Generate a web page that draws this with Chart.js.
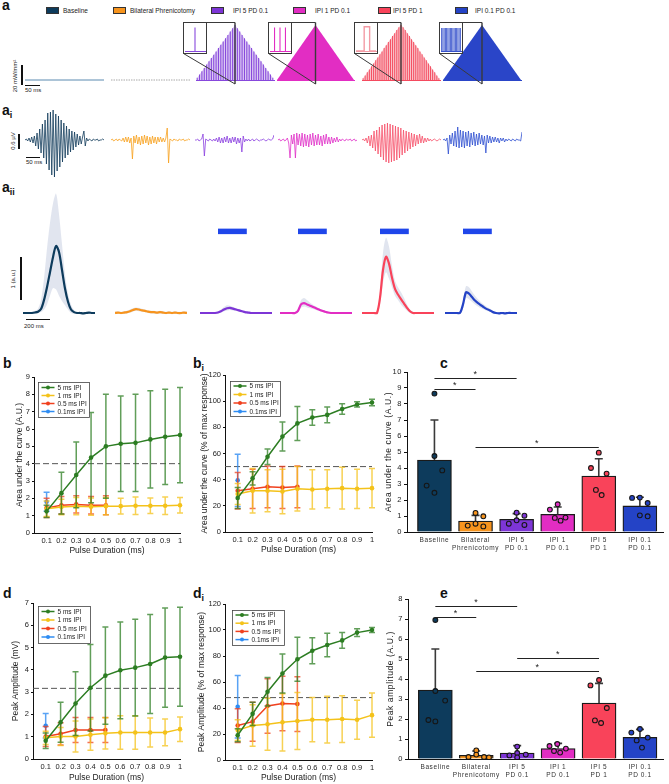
<!DOCTYPE html>
<html>
<head>
<meta charset="utf-8">
<title>Stimulation figure</title>
<script src="https://cdn.jsdelivr.net/npm/chart.js@4.4.1/dist/chart.umd.min.js"></script>
<style>
  body { margin: 0; width: 669px; height: 784px; position: relative; overflow: hidden; background: #fff;
         font-family: "Liberation Sans", Arial, sans-serif; color: #111; }
  canvas { position: absolute; }
  .lbl { position: absolute; font-weight: bold; font-size: 14px; line-height: 1; }
  .lbl sub { font-size: 9px; vertical-align: -3px; }
  .sw { position: absolute; top: 7px; width: 13px; height: 7px; box-sizing: border-box; border: 1px solid #333; }
  .lt { position: absolute; top: 7px; font-size: 6.5px; line-height: 7px; color: #222; white-space: nowrap; }
  .sbar { position: absolute; background: #111; }
  .note { position: absolute; font-size: 6px; color: #222; white-space: nowrap; }
  .vnote { position: absolute; font-size: 6px; color: #222; white-space: nowrap; transform: translate(-50%, -50%) rotate(-90deg); }
</style>
</head>
<body>
<div class="lbl" style="left:2px;top:-2px">a</div>
<div class="lbl" style="left:2px;top:103px">a<sub>i</sub></div>
<div class="lbl" style="left:2px;top:180px">a<sub>ii</sub></div>
<div class="lbl" style="left:3px;top:356px">b</div>
<div class="lbl" style="left:193px;top:356px">b<sub>i</sub></div>
<div class="lbl" style="left:440px;top:356px">c</div>
<div class="lbl" style="left:3px;top:586px">d</div>
<div class="lbl" style="left:193px;top:586px">d<sub>i</sub></div>
<div class="lbl" style="left:440px;top:586px">e</div>

<!-- scale bars -->
<div class="sbar" style="left:21px;top:65px;width:1.5px;height:20px"></div>
<div class="sbar" style="left:25px;top:85px;width:15px;height:1.2px"></div>
<div class="note" style="left:25px;top:87px">50 ms</div>
<div class="vnote" style="left:15px;top:76px">20 mW/mm²</div>

<div class="sbar" style="left:18px;top:134px;width:1.5px;height:15px"></div>
<div class="sbar" style="left:26px;top:157px;width:14px;height:1.2px"></div>
<div class="note" style="left:26px;top:159px">50 ms</div>
<div class="vnote" style="left:13px;top:141px">0.6 µV</div>

<div class="sbar" style="left:20px;top:257px;width:1.5px;height:43px"></div>
<div class="sbar" style="left:26px;top:319px;width:24px;height:1.2px"></div>
<div class="note" style="left:24px;top:323px">200 ms</div>
<div class="vnote" style="left:13px;top:279px">1 (a.u.)</div>

<script>
// ---------- data ----------
const groups = ['Baseline', 'Bilateral Phrenicotomy', 'IPI 5 PD 0.1', 'IPI 1 PD 0.1', 'IPI 5 PD 1', 'IPI 0.1 PD 0.1'];
const groupTicks = ['Baseline', ['Bilateral', 'Phrenicotomy'], ['IPI 5', 'PD 0.1'], ['IPI 1', 'PD 0.1'], ['IPI 5', 'PD 1'], ['IPI 0.1', 'PD 0.1']];
const groupColors = ['#0d3b5c', '#f7941d', '#7d35d6', '#e22dc3', '#f9435a', '#2443c6'];

// panel a: stimulation envelopes (normalised pulse heights)
const stimBaseline = [0, 0];
const stimPhren = [0, 0];
const purplePulses = [0.04, 0.1, 0.16, 0.22, 0.28, 0.34, 0.4, 0.46, 0.52, 0.58, 0.64, 0.7, 0.76, 0.82, 0.88, 0.94, 1,
  0.94, 0.88, 0.82, 0.76, 0.7, 0.64, 0.58, 0.52, 0.46, 0.4, 0.34, 0.28, 0.22, 0.16, 0.1, 0.04];
const pinkEnvelope = [0, 1, 0];
const redPulses = [0.03, 0.08, 0.14, 0.19, 0.25, 0.3, 0.36, 0.41, 0.47, 0.52, 0.58, 0.63, 0.69, 0.74, 0.8, 0.85, 0.91, 0.96, 1,
  0.96, 0.91, 0.85, 0.8, 0.74, 0.69, 0.63, 0.58, 0.52, 0.47, 0.41, 0.36, 0.3, 0.25, 0.19, 0.14, 0.08, 0.03];
const blueEnvelope = [0, 1, 0];
const insetPurple = [0, 0, 0, 0, 0, 0.87, 0, 0, 0, 0, 0];
const insetPink = [0, 0, 0.87, 0, 0, 0.87, 0, 0, 0.87, 0, 0];
const insetRed = [0, 0, 0, 0, 0, 0.9, 0.9, 0.9, 0, 0, 0, 0];
const insetBlue = [0.85, 0.85, 0.85, 0.85, 0.85, 0.85, 0.85, 0.85, 0.85, 0.85, 0.85, 0.85, 0.85, 0.85, 0.85, 0.85];

// panel ai: raw EMG (arbitrary units, one sample per step)
const emgBaseline = [0, 1, -1, 2, -2, 3, -3, 4, -6, 7, -9, 11, -13, 16, -18, 20, -24, 27, -30, 28,
  -35, 30, -37, 26, -31, 24, -27, 20, -22, 17, -18, 14, -15, 11, -12, 9, -10, 8, -7, 6,
  -5, 4, -4, 3, 9, -6, 2, -1, 1, 0, -1, 1, 0, 0, 1, -1, 0, 0, 1, 0];
const emgPhren = [0, 1, -1, 0, 1, -1, 1, 0, -1, 2, -2, 3, -2, 3, -3, 2, -19, 4, -3, 5,
  -4, 3, -5, 4, -4, 5, -3, 4, -5, 3, -4, 4, -3, 3, -4, 3, -2, 3, -2, 2,
  -2, 2, 12, -23, 1, 0, -1, 1, 0, 0, -1, 1, 0, 0, 1, -1, 0, 0, 1, 0];
const emgPurple = [0, 0, 1, -1, 0, 1, 6, -16, 1, 0, -1, 1, 0, -1, 1, -1, 2, -2, 3, -3,
  2, -3, 3, -2, 4, -3, 2, -3, 3, -2, 3, -4, 2, -3, 2, -12, 4, -2, 1, -1,
  1, -1, 0, 1, -1, 0, 1, 0, -1, 0, 0, 1, 0, -1, 0, 1, 0, 0, 1, 5];
const emgPink = [0, 1, -1, 0, 1, -1, 0, 2, -3, -18, 5, -4, 6, -18, 7, -5, 6, -6, 7, -7,
  6, -6, 5, -7, 6, -5, 7, -6, 5, -5, 6, -5, 4, -6, 5, -4, 6, -4, 3, -4,
  3, -3, 2, -2, 3, -2, 1, -1, 1, 0, -1, 1, 0, 0, 1, -1, 0, 1, -1, 0];
const emgRed = [0, 1, -1, 2, -3, 4, -6, 5, -8, 9, -11, 10, -14, 13, -17, 15, -20, 16, -22, 17,
  -23, 16, -22, 15, -21, 14, -20, 13, -18, 12, -15, 10, -13, 9, -11, 8, -9, 7, -7, 6,
  -6, 5, -4, 6, -3, 4, -3, 2, -2, 2, -1, 1, -1, 0, 1, 0, -1, 0, 1, 0];
const emgBlue = [0, 1, -1, 2, -14, 5, -4, 7, -6, 9, -7, 13, -8, 10, -7, 9, -8, 8, -6, 9,
  -7, 7, -5, 8, -6, 6, -5, 7, -4, 5, -5, 4, -13, 5, -3, 4, -3, 3, -2, 3,
  -2, 2, -3, 2, -1, 2, -2, 1, -1, 1, 0, -1, 1, 0, -1, 1, 0, 0, -1, 8];

// panel aii: integrated activity (a.u.), mean and shaded band
const aiiTime = [0, 25, 50, 75, 100, 125, 150, 175, 200, 225, 250, 275, 300, 325, 350, 375, 400, 425, 450, 475, 500, 525, 550, 575, 600];
const stimWindow = [150, 390];
const aiiBaseMean = [0, 0, 0, 0, 0.01, 0.03, 0.09, 0.3, 0.6, 0.95, 1.3, 1.56, 1.42, 1.0, 0.57, 0.26, 0.08, 0.02, 0, 0, -0.01, 0, 0.01, 0, 0];
const aiiBaseUp = [0.02, 0.02, 0.02, 0.03, 0.05, 0.1, 0.3, 0.8, 1.5, 2.1, 2.55, 2.78, 2.3, 1.6, 0.9, 0.45, 0.2, 0.07, 0.03, 0.02, 0.02, 0.02, 0.03, 0.02, 0.02];
const aiiBaseLo = [-0.02, -0.02, -0.02, -0.02, -0.01, 0, 0.02, 0.08, 0.2, 0.4, 0.58, 0.55, 0.4, 0.28, 0.18, 0.08, 0, -0.02, -0.02, -0.03, -0.03, -0.02, -0.02, -0.02, -0.02];
const aiiPhrenMean = [0, 0.01, 0, 0.01, 0.02, 0.04, 0.07, 0.09, 0.08, 0.06, 0.05, 0.03, 0.02, 0.02, 0.01, 0.02, 0.01, 0, 0.01, 0, 0.01, 0, 0, 0.01, 0];
const aiiPhrenUp = [0.03, 0.04, 0.03, 0.04, 0.05, 0.08, 0.11, 0.13, 0.12, 0.1, 0.08, 0.06, 0.05, 0.05, 0.04, 0.05, 0.04, 0.03, 0.04, 0.03, 0.04, 0.03, 0.03, 0.04, 0.03];
const aiiPhrenLo = [-0.03, -0.02, -0.03, -0.02, -0.01, 0.01, 0.03, 0.05, 0.04, 0.03, 0.02, 0, -0.01, -0.01, -0.02, -0.01, -0.02, -0.03, -0.02, -0.03, -0.02, -0.03, -0.03, -0.02, -0.03];
const aiiPurpleMean = [0, 0, 0, 0, 0, 0, 0.01, 0.04, 0.08, 0.11, 0.12, 0.1, 0.08, 0.06, 0.04, 0.02, 0.01, 0, 0, 0, 0, 0, 0, 0, 0];
const aiiPurpleUp = [0.02, 0.02, 0.02, 0.02, 0.02, 0.02, 0.04, 0.08, 0.14, 0.18, 0.17, 0.14, 0.11, 0.09, 0.06, 0.04, 0.03, 0.02, 0.02, 0.02, 0.02, 0.02, 0.02, 0.02, 0.02];
const aiiPurpleLo = [-0.02, -0.02, -0.02, -0.02, -0.02, -0.02, -0.01, 0.01, 0.04, 0.06, 0.07, 0.06, 0.05, 0.03, 0.02, 0, -0.01, -0.02, -0.02, -0.02, -0.02, -0.02, -0.02, -0.02, -0.02];
const aiiPinkMean = [0, 0, 0, 0, 0, 0, 0.05, 0.2, 0.23, 0.2, 0.17, 0.14, 0.11, 0.08, 0.05, 0.03, 0.01, 0, 0, 0, 0, 0, 0, 0, 0];
const aiiPinkUp = [0.02, 0.02, 0.02, 0.02, 0.02, 0.02, 0.08, 0.3, 0.35, 0.3, 0.24, 0.19, 0.15, 0.11, 0.08, 0.05, 0.03, 0.02, 0.02, 0.02, 0.02, 0.02, 0.02, 0.02, 0.02];
const aiiPinkLo = [-0.02, -0.02, -0.02, -0.02, -0.02, -0.02, 0.02, 0.12, 0.15, 0.13, 0.11, 0.09, 0.07, 0.05, 0.03, 0.01, -0.01, -0.02, -0.02, -0.02, -0.02, -0.02, -0.02, -0.02, -0.02];
const aiiRedMean = [0, 0, 0, 0, 0, 0, 0.35, 1.0, 1.31, 1.15, 0.82, 0.56, 0.43, 0.32, 0.22, 0.12, 0.04, 0, 0, 0, 0, 0, 0, 0, 0];
const aiiRedUp = [0.02, 0.02, 0.02, 0.02, 0.02, 0.02, 0.5, 1.4, 1.75, 1.55, 1.1, 0.75, 0.6, 0.48, 0.35, 0.2, 0.08, 0.03, 0.02, 0.02, 0.02, 0.02, 0.02, 0.02, 0.02];
const aiiRedLo = [-0.02, -0.02, -0.02, -0.02, -0.02, -0.02, 0.2, 0.7, 0.95, 0.8, 0.6, 0.4, 0.3, 0.2, 0.12, 0.05, 0, -0.02, -0.02, -0.02, -0.02, -0.02, -0.02, -0.02, -0.02];
const aiiBlueMean = [0, 0, 0, 0, 0, 0, 0.2, 0.48, 0.45, 0.37, 0.29, 0.23, 0.18, 0.13, 0.09, 0.06, 0.02, 0, -0.01, 0, -0.01, 0, 0, 0, 0];
const aiiBlueUp = [0.02, 0.02, 0.02, 0.02, 0.02, 0.02, 0.3, 0.62, 0.6, 0.5, 0.4, 0.32, 0.25, 0.19, 0.14, 0.1, 0.05, 0.02, 0.02, 0.02, 0.02, 0.02, 0.02, 0.02, 0.02];
const aiiBlueLo = [-0.02, -0.02, -0.02, -0.02, -0.02, -0.02, 0.1, 0.35, 0.32, 0.26, 0.2, 0.15, 0.11, 0.08, 0.05, 0.02, -0.01, -0.02, -0.03, -0.02, -0.03, -0.02, -0.02, -0.02, -0.02];

// panels b, bi, d, di: pulse duration sweeps
const pulseDur = [0.1, 0.2, 0.3, 0.4, 0.5, 0.6, 0.7, 0.8, 0.9, 1];
const ipiLabels = ['5 ms IPI', '1 ms IPI', '0.5 ms IPI', '0.1ms IPI'];
const ipiColors = ['#2c7d22', '#f4c21a', '#f0401e', '#2f8cf2'];
const ipiErrColors = ['rgba(44,125,34,0.75)', 'rgba(244,194,26,0.75)', 'rgba(240,64,30,0.75)', 'rgba(47,140,242,0.8)'];

const auc5 = [1.25, 2.3, 3.35, 4.35, 5.0, 5.15, 5.2, 5.4, 5.55, 5.65];
const auc5Err = [0.35, 1.2, 1.9, 2.6, 3.0, 2.75, 2.8, 2.8, 2.75, 2.75];
const auc1 = [1.4, 1.5, 1.55, 1.52, 1.55, 1.55, 1.57, 1.57, 1.57, 1.6];
const auc1Err = [0.45, 0.45, 0.5, 0.5, 0.5, 0.45, 0.5, 0.45, 0.5, 0.45];
const auc05 = [1.45, 1.6, 1.65, 1.6, 1.6];
const auc05Err = [0.55, 0.5, 0.5, 0.5, 0.55];
const auc01 = [1.8];
const auc01Err = [0.55];

const aucPct5 = [26, 41, 57.5, 73, 83, 87.5, 89.5, 94, 97.5, 99];
const aucPct5Err = [8, 5, 6, 11, 13, 6, 6, 4, 2, 2.5];
const aucPct1 = [29, 31.5, 31.5, 31, 33, 32.5, 33, 33.5, 33, 33.5];
const aucPct1Err = [8, 17, 16, 17, 17, 15, 14.5, 16, 15, 15];
const aucPct05 = [31.5, 33, 34.5, 34, 34.5];
const aucPct05Err = [14, 15, 16, 16, 16];
const aucPct01 = [39.5];
const aucPct01Err = [20];

const amp5 = [0.82, 1.65, 2.49, 3.2, 3.74, 3.98, 4.1, 4.26, 4.55, 4.59];
const amp5Err = [0.35, 0.9, 1.43, 1.94, 2.18, 2.17, 2.17, 2.22, 2.23, 2.22];
const amp1 = [0.95, 1.01, 1.01, 1.09, 1.15, 1.19, 1.19, 1.19, 1.19, 1.34];
const amp1Err = [0.3, 0.4, 0.7, 0.7, 0.7, 0.75, 0.75, 0.65, 0.6, 0.55];
const amp05 = [1.01, 1.13, 1.3, 1.3, 1.3];
const amp05Err = [0.45, 0.5, 0.56, 0.56, 0.56];
const amp01 = [1.49];
const amp01Err = [0.55];

const ampPct5 = [19, 35.5, 52.5, 66.5, 77.5, 84, 88.5, 92, 98, 100];
const ampPct5Err = [5, 9, 11, 15, 17, 10, 9, 6, 3, 2];
const ampPct1 = [23, 26.5, 27.5, 29, 30, 31, 31, 31.5, 31, 34.5];
const ampPct1Err = [8, 16, 20, 22, 22, 17, 18, 18, 15, 17];
const ampPct05 = [26.5, 29.5, 41.5, 43.5, 43];
const ampPct05Err = [13, 15, 21, 21, 21];
const ampPct01 = [41];
const ampPct01Err = [24];

// panels c and e: group means, SD and individual animals
const aucMean = [4.5, 0.69, 0.79, 1.1, 3.5, 1.63];
const aucSd = [2.5, 0.35, 0.36, 0.46, 1.08, 0.54];
const aucDots = [[8.65, 4.75, 3.85, 2.9, 2.45], [1.19, 0.98, 0.4, 0.52, 0.35], [1.21, 1.02, 0.52, 0.73, 0.44],
  [1.73, 1.4, 0.88, 0.71, 0.9], [4.96, 4.0, 3.65, 2.63, 2.31], [2.13, 2.15, 1.81, 1.04, 0.98]];
const aucSigFrom = [0, 0, 1];
const aucSigTo = [2, 1, 4];
const aucSigLevel = [9.6, 8.94, 5.3];

const peakMean = [3.45, 0.18, 0.3, 0.52, 2.8, 1.08];
const peakSd = [2.05, 0.22, 0.37, 0.26, 0.98, 0.4];
const peakDots = [[6.95, 3.4, 2.92, 1.95, 1.88], [0.43, 0.22, 0.1, 0.1, 0.08], [0.62, 0.18, 0.3, 0.22, 0.08],
  [0.65, 0.75, 0.4, 0.32, 0.52], [3.95, 3.68, 2.55, 1.93, 1.8], [1.32, 1.5, 1.07, 0.93, 0.57]];
const peakSigFrom = [0, 0, 2, 1];
const peakSigTo = [2, 1, 4, 4];
const peakSigLevel = [7.65, 7.1, 5.03, 4.4];

// ---------- layout / style ----------
const aucJitter = [[0, 0, 0.19, -0.19, 0], [0, 0.19, -0.19, 0, 0.19], [0, 0.19, -0.19, 0, 0.19],
  [0, -0.19, -0.07, 0.07, 0.19], [0, -0.19, 0.19, -0.07, 0.07], [-0.19, 0, 0.19, 0, 0.19]];
const peakJitter = [[0, 0, 0.24, -0.17, 0], [0, 0, -0.19, 0.19, 0.31], [0, -0.19, 0, 0.21, 0],
  [-0.21, -0.02, -0.1, 0.05, 0.19], [0, -0.21, 0.19, -0.1, 0.05], [-0.21, 0, 0.19, -0.08, 0.05]];
const FONT = '"Liberation Sans", Arial, sans-serif';

Chart.defaults.font.family = FONT;
Chart.defaults.color = '#222';
Chart.defaults.animation = false;
Chart.defaults.responsive = false;
Chart.defaults.plugins.legend.display = false;
Chart.defaults.plugins.tooltip.enabled = false;

function place(left, top, w, h) {
  const c = document.createElement('canvas');
  c.width = w; c.height = h;
  c.style.left = left + 'px'; c.style.top = top + 'px';
  document.body.appendChild(c);
  return c;
}

// top legend
const legendX = [[46, 63], [113, 130], [211, 233], [293, 315], [378, 393], [455, 475]];
groups.forEach((g, i) => {
  const sw = document.createElement('div');
  sw.className = 'sw'; sw.style.left = legendX[i][0] + 'px'; sw.style.background = groupColors[i];
  const t = document.createElement('div');
  t.className = 'lt'; t.style.left = legendX[i][1] + 'px'; t.textContent = g;
  document.body.append(sw, t);
});

// ---------- plugins ----------
const callout = {
  id: 'callout',
  afterDraw(chart, a, o) {
    if (o.apex == null) return;
    const ctx = chart.ctx;
    const ax = chart.scales.x.getPixelForValue(o.apex);
    ctx.save();
    ctx.strokeStyle = '#3a3a3a';
    ctx.lineWidth = 1;
    ctx.strokeRect(0.5, o.top + 0.5, o.w, o.h);
    ctx.beginPath();
    ctx.moveTo(o.w + 0.5, o.top + 0.5); ctx.lineTo(ax, o.top + 0.5);
    ctx.moveTo(0.5, o.top + o.h + 0.5); ctx.lineTo(ax, o.bottom);
    ctx.stroke();
    ctx.lineWidth = 1.4;
    ctx.beginPath();
    ctx.moveTo(ax, o.top + 0.5); ctx.lineTo(ax, o.bottom);
    ctx.stroke();
    ctx.restore();
  }
};

const errorBars = {
  id: 'errorBars',
  beforeDatasetDraw(chart, args) {
    const ds = chart.data.datasets[args.index];
    if (!ds.err) return;
    const ctx = chart.ctx, y = chart.scales.y;
    ctx.save();
    ctx.strokeStyle = ds.errColor;
    ctx.lineWidth = 1.5;
    args.meta.data.forEach((pt, i) => {
      const v = ds.data[i].y, e = ds.err[i];
      const yt = y.getPixelForValue(v + e), yb = y.getPixelForValue(v - e);
      ctx.beginPath();
      ctx.moveTo(pt.x, yt); ctx.lineTo(pt.x, yb);
      ctx.moveTo(pt.x - 3, yt); ctx.lineTo(pt.x + 3, yt);
      ctx.moveTo(pt.x - 3, yb); ctx.lineTo(pt.x + 3, yb);
      ctx.stroke();
    });
    ctx.restore();
  }
};

const refLine = {
  id: 'refLine',
  beforeDatasetsDraw(chart, a, o) {
    if (o.value == null) return;
    const ctx = chart.ctx, ca = chart.chartArea;
    const y = chart.scales.y.getPixelForValue(o.value);
    ctx.save();
    ctx.setLineDash([6, 3]);
    ctx.strokeStyle = '#555';
    ctx.lineWidth = 1;
    ctx.beginPath(); ctx.moveTo(ca.left, y); ctx.lineTo(ca.right, y); ctx.stroke();
    ctx.restore();
  }
};

const boxLegend = {
  id: 'boxLegend',
  afterDraw(chart, a, o) {
    if (o.dx == null) return;
    const ctx = chart.ctx, ca = chart.chartArea;
    const x0 = Math.round(ca.left + o.dx) + 0.5, y0 = Math.round(ca.top + o.dy) + 0.5;
    ctx.save();
    ctx.fillStyle = '#fff';
    ctx.strokeStyle = '#444';
    ctx.lineWidth = 0.8;
    ctx.fillRect(x0, y0, o.w, o.h);
    ctx.strokeRect(x0, y0, o.w, o.h);
    ctx.font = '6.5px ' + FONT;
    ctx.textBaseline = 'middle';
    chart.data.datasets.forEach((d, i) => {
      const y = y0 + o.row0 + i * o.step;
      ctx.strokeStyle = d.borderColor;
      ctx.lineWidth = 1.5;
      ctx.beginPath(); ctx.moveTo(x0 + 3, y); ctx.lineTo(x0 + 16, y); ctx.stroke();
      ctx.fillStyle = d.borderColor;
      ctx.beginPath(); ctx.arc(x0 + 9.5, y, 2, 0, Math.PI * 2); ctx.fill();
      ctx.fillStyle = '#222';
      ctx.fillText(d.label, x0 + 19, y + 0.5);
    });
    ctx.restore();
  }
};

const barErr = {
  id: 'barErr',
  afterDatasetDraw(chart, args) {
    const ds = chart.data.datasets[args.index];
    if (!ds.sd) return;
    const ctx = chart.ctx, y = chart.scales.y;
    ctx.save();
    ctx.strokeStyle = '#3a3a3a';
    ctx.lineWidth = 1.6;
    args.meta.data.forEach((bar, i) => {
      const yt = y.getPixelForValue(ds.data[i].y + ds.sd[i]);
      ctx.beginPath();
      ctx.moveTo(bar.x, bar.y); ctx.lineTo(bar.x, yt);
      ctx.moveTo(bar.x - 4, yt); ctx.lineTo(bar.x + 4, yt);
      ctx.stroke();
    });
    ctx.restore();
  }
};

const sigBars = {
  id: 'sigBars',
  afterDraw(chart, a, o) {
    if (!o.from) return;
    const ctx = chart.ctx, x = chart.scales.x, y = chart.scales.y;
    ctx.save();
    ctx.strokeStyle = '#222';
    ctx.fillStyle = '#222';
    ctx.lineWidth = 1;
    ctx.font = '9px ' + FONT;
    ctx.textAlign = 'center';
    ctx.textBaseline = 'middle';
    o.from.forEach((f, i) => {
      const x1 = x.getPixelForValue(f), x2 = x.getPixelForValue(o.to[i]);
      const yy = Math.round(y.getPixelForValue(o.level[i])) + 0.5;
      ctx.beginPath(); ctx.moveTo(x1, yy); ctx.lineTo(x2, yy); ctx.stroke();
      ctx.fillText('*', (x1 + x2) / 2, yy - 4);
    });
    ctx.restore();
  }
};

const spacing = {
  id: 'spacing',
  beforeDraw(chart, a, o) { chart.ctx.letterSpacing = o.ls || '0px'; }
};

// ---------- panel a ----------
const hidden = { display: false };

function flatTrace(left, vals, color, dash) {
  new Chart(place(left, 18, 79, 70), {
    type: 'line',
    data: { labels: vals.map((_, i) => i), datasets: [{ data: vals, borderColor: color, borderWidth: 1, borderDash: dash, pointRadius: 0 }] },
    options: { layout: { padding: { top: 7, bottom: 8 } }, scales: { x: hidden, y: { display: false, min: 0, max: 1 } }, clip: false }
  });
}
flatTrace(25, stimBaseline, '#5a8ab0', []);
flatTrace(111, stimPhren, '#a8a8a8', [1.5, 1]);

function stimTrain(left, w, padL, vals, color, fillColor, pulses, apex) {
  const datasets = [];
  if (pulses) datasets.push({ type: 'bar', data: vals, backgroundColor: color, barPercentage: 0.45, categoryPercentage: 1 });
  datasets.push({ type: 'line', data: vals, fill: 'origin', backgroundColor: fillColor, borderWidth: 0, pointRadius: 0 });
  new Chart(place(left, 18, w, 70), {
    type: 'bar',
    data: { labels: vals.map((_, i) => i), datasets },
    options: {
      layout: { padding: { top: 7, bottom: 8, left: padL, right: 2 } },
      scales: {
        x: { offset: pulses, ticks: { display: false }, grid: { display: false }, border: { color: color, width: 1 }, afterFit: s => { s.height = 0; } },
        y: { display: false, min: 0, max: 1 }
      },
      plugins: { callout: { apex: apex, top: 4, w: 23, h: 31, bottom: 66 } }
    },
    plugins: [callout]
  });
}
stimTrain(183, 93, 13, purplePulses, '#8747dc', '#dccbf3', true, 16);
stimTrain(268, 88, 9, pinkEnvelope, '#e22dc3', '#e22dc3', false, 1);
stimTrain(354, 88, 8, redPulses, '#f44a5e', '#f9c3c9', true, 18);
stimTrain(439, 84, 4, blueEnvelope, '#2a45c8', '#2a45c8', false, 1);

function inset(left, vals, color, kind, barPct) {
  const ds = kind === 'bar'
    ? { type: 'bar', data: vals, backgroundColor: color, barPercentage: barPct, categoryPercentage: 1 }
    : { type: 'line', data: vals, borderColor: color, borderWidth: 1.4, pointRadius: 0, stepped: 'middle' };
  new Chart(place(left + 1, 23, 22, 30), {
    type: 'bar',
    data: { labels: vals.map((_, i) => i), datasets: [ds] },
    options: {
      layout: { padding: { top: 1, bottom: 2, left: 1, right: 1 } },
      scales: {
        x: { offset: kind === 'bar', ticks: { display: false }, grid: { display: false }, border: { color: color, width: 1 }, afterFit: s => { s.height = 0; } },
        y: { display: false, min: 0, max: 1 }
      }
    }
  });
}
inset(183, insetPurple, '#8747dc', 'bar', 0.6);
inset(268, insetPink, '#e22dc3', 'bar', 0.6);
inset(354, insetRed, '#f39aa4', 'line', 1);
inset(439, insetBlue, '#3550cc', 'bar', 0.7);

// ---------- panel ai ----------
const emgSeries = [emgBaseline, emgPhren, emgPurple, emgPink, emgRed, emgBlue];
const emgColors = ['#123b5a', '#f7a11e', '#8a3fe0', '#e030c8', '#f6506a', '#2f4fd0'];
const emgLeft = [25, 111, 195, 278, 362, 443];
emgSeries.forEach((vals, i) => {
  new Chart(place(emgLeft[i], 103, 79, 74), {
    type: 'line',
    data: { labels: vals.map((_, j) => j), datasets: [{ data: vals, borderColor: emgColors[i], borderWidth: 0.8, pointRadius: 0 }] },
    options: { scales: { x: hidden, y: { display: false, min: -37, max: 37 } } }
  });
});

// ---------- panel aii ----------
const aiiMeans = [aiiBaseMean, aiiPhrenMean, aiiPurpleMean, aiiPinkMean, aiiRedMean, aiiBlueMean];
const aiiUps = [aiiBaseUp, aiiPhrenUp, aiiPurpleUp, aiiPinkUp, aiiRedUp, aiiBlueUp];
const aiiLos = [aiiBaseLo, aiiPhrenLo, aiiPurpleLo, aiiPinkLo, aiiRedLo, aiiBlueLo];
const aiiLeft = [23, 115, 200, 280, 362, 445];
const pts = vals => vals.map((v, i) => ({ x: aiiTime[i], y: v }));
aiiMeans.forEach((m, i) => {
  const datasets = [
    { data: pts(m), borderColor: groupColors[i], borderWidth: 2.2, pointRadius: 0, tension: 0.3 },
    { data: pts(aiiUps[i]), borderWidth: 0, pointRadius: 0, fill: '+1', backgroundColor: 'rgba(205,212,228,0.6)', tension: 0.3 },
    { data: pts(aiiLos[i]), borderWidth: 0, pointRadius: 0, tension: 0.3 }
  ];
  if (i >= 2) datasets.unshift({ data: stimWindow.map(t => ({ x: t, y: 1.9 })), borderColor: '#1f46ea', borderWidth: 5.5, borderCapStyle: 'butt', pointRadius: 0 });
  new Chart(place(aiiLeft[i], 185, 72, 140), {
    type: 'line',
    data: { datasets },
    options: { scales: { x: { type: 'linear', display: false, min: 0, max: 600 }, y: { display: false, min: -0.28, max: 2.98 } } }
  });
});

// ---------- panels b, bi, d, di ----------
function sweepChart(box, fit, yTitle, yMax, yStep, series, ref, legend) {
  const [left, top, w, h] = box;
  const [yW, xH, padT, padR] = fit;
  new Chart(place(left, top, w, h), {
    type: 'line',
    data: {
      datasets: series.map((s, i) => ({
        label: ipiLabels[i],
        data: s[0].map((v, j) => ({ x: pulseDur[j], y: v })),
        err: s[1],
        borderColor: ipiColors[i], backgroundColor: ipiColors[i], errColor: ipiErrColors[i],
        borderWidth: 1.5, pointRadius: 2.3, pointBorderWidth: 0
      }))
    },
    options: {
      layout: { padding: { top: padT, right: padR, left: 0, bottom: 0 } },
      clip: false,
      scales: {
        x: {
          type: 'linear', min: 0.015, max: 1.0,
          afterBuildTicks: s => { s.ticks = pulseDur.map(v => ({ value: v })); },
          ticks: { callback: v => String(v), font: { size: 7.5 }, color: '#222', padding: 3, maxRotation: 0, autoSkip: false },
          grid: { display: false, drawTicks: false }, border: { color: '#111', width: 1 },
          title: { display: true, text: 'Pulse Duration (ms)', font: { size: 8.5 }, color: '#222', padding: 0 },
          afterFit: s => { s.height = xH; }
        },
        y: {
          min: 0, max: yMax,
          ticks: { stepSize: yStep, font: { size: 7.5 }, color: '#222', padding: 2 },
          grid: { drawOnChartArea: false, tickLength: 2, color: '#111' }, border: { color: '#111', width: 1 },
          title: { display: true, text: yTitle, font: { size: 8.5 }, color: '#222', padding: 0 },
          afterFit: s => { s.width = yW; }
        }
      },
      plugins: { refLine: { value: ref }, boxLegend: legend }
    },
    plugins: [refLine, errorBars, boxLegend]
  });
}

sweepChart([15, 365, 177, 191], [19, 23, 12, 12], 'Area under the curve (A.U.)', 9, 1,
  [[auc5, auc5Err], [auc1, auc1Err], [auc05, auc05Err], [auc01, auc01Err]], 4,
  { dx: 3.5, dy: 4.5, w: 51, h: 35, row0: 5, step: 8 });
sweepChart([200, 365, 180, 190], [25, 23, 10, 8], 'Area under the curve (% of max response)', 120, 20,
  [[aucPct5, aucPct5Err], [aucPct1, aucPct1Err], [aucPct05, aucPct05Err], [aucPct01, aucPct01Err]], 50,
  { dx: 5, dy: 6, w: 50, h: 35, row0: 4.5, step: 8.5 });
sweepChart([11, 590, 181, 193], [22, 24, 13, 12], 'Peak Amplitude (mV)', 7, 1,
  [[amp5, amp5Err], [amp1, amp1Err], [amp05, amp05Err], [amp01, amp01Err]], 3.17,
  { dx: 5.3, dy: 3, w: 52, h: 37, row0: 5, step: 8.5 });
sweepChart([197, 590, 183, 193], [28, 23, 14, 8], 'Peak Amplitude (% of max response)', 120, 20,
  [[ampPct5, ampPct5Err], [ampPct1, ampPct1Err], [ampPct05, ampPct05Err], [ampPct01, ampPct01Err]], 48,
  { dx: 7, dy: 6, w: 52, h: 35, row0: 4.5, step: 8.2 });

// ---------- panels c, e ----------
function groupChart(box, fit, yTitle, yMax, means, sd, dots, jitter, sig) {
  const [left, top, w, h] = box;
  const [yW, xH, padT] = fit;
  new Chart(place(left, top, w, h), {
    type: 'bar',
    data: {
      datasets: [
        {
          type: 'scatter',
          data: dots.flatMap((arr, i) => arr.map((v, j) => ({ x: i + jitter[i][j], y: v }))),
          pointRadius: 2.4, pointBorderWidth: 1.1, pointBorderColor: '#161616',
          pointBackgroundColor: dots.flatMap((arr, i) => arr.map(() => groupColors[i]))
        },
        {
          type: 'bar',
          data: means.map((v, i) => ({ x: i, y: v })),
          sd: sd,
          backgroundColor: groupColors, borderColor: '#1a1a1a', borderWidth: 1.3, barThickness: 34
        }
      ]
    },
    options: {
      layout: { padding: { top: padT, right: 0, left: 0, bottom: 0 } },
      scales: {
        x: {
          type: 'linear', min: -0.668, max: 5.585, offset: false,
          afterBuildTicks: s => { s.ticks = groups.map((_, i) => ({ value: i })); },
          ticks: { callback: v => groupTicks[v], font: { size: 6.5, lineHeight: 1.25 }, color: '#333', padding: 4, maxRotation: 0, autoSkip: false },
          grid: { display: false, drawTicks: false }, border: { color: '#111', width: 1 },
          afterFit: s => { s.height = xH; s.paddingLeft = 0; s.paddingRight = 0; }
        },
        y: {
          min: 0, max: yMax,
          ticks: { stepSize: 1, font: { size: 7.5 }, color: '#222', padding: 2 },
          grid: { drawOnChartArea: false, tickLength: 3, color: '#111' }, border: { color: '#111', width: 1 },
          title: { display: true, text: yTitle, font: { size: 8.5 }, color: '#222', padding: 0 },
          afterFit: s => { s.width = yW; }
        }
      },
      plugins: { sigBars: sig, spacing: { ls: '0.6px' } }
    },
    plugins: [spacing, barErr, sigBars]
  });
}

groupChart([384, 365, 285, 200], [23, 33, 7], 'Area under the curve (A.U.)', 10, aucMean, aucSd, aucDots, aucJitter,
  { from: aucSigFrom, to: aucSigTo, level: aucSigLevel });
groupChart([386, 590, 283, 194], [22, 25, 9], 'Peak amplitude (A.U.)', 8, peakMean, peakSd, peakDots, peakJitter,
  { from: peakSigFrom, to: peakSigTo, level: peakSigLevel });
</script>
</body>
</html>
